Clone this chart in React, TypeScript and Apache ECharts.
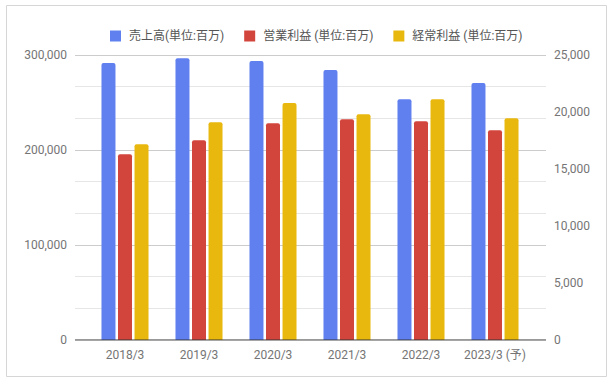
import React, { useEffect, useRef } from "react";
import * as echarts from "echarts";

const categories = ["2018/3", "2019/3", "2020/3", "2021/3", "2022/3", "2023/3 (予)"];
const salesValues = [291500, 296700, 293600, 284100, 253500, 270400];
const operatingValues = [16300, 17520, 19020, 19370, 19190, 18400];
const ordinaryValues = [17170, 19100, 20800, 19810, 21120, 19460];
const seriesNames = ["売上高(単位:百万)", "営業利益 (単位:百万)", "経常利益 (単位:百万)"];

const FONT = "Roboto, 'Noto Sans CJK JP', sans-serif";

export default function App() {
  const ref = useRef<HTMLDivElement>(null);
  useEffect(() => {
    if (!ref.current) return;
    const chart = echarts.init(ref.current, null, { renderer: "svg" });
    const numFmt = (v: number) => v.toLocaleString("en-US");
    chart.setOption({
      animation: false,
      textStyle: { fontFamily: FONT },
      graphic: [
        {
          type: "rect",
          shape: { x: 6.5, y: 5.5, width: 600, height: 371 },
          style: { fill: "none", stroke: "#d6d6d6", lineWidth: 1 },
          silent: true,
        },
      ],
      legend: {
        top: 25,
        left: 105,
        icon: "rect",
        itemWidth: 11,
        itemHeight: 11,
        itemGap: 20,
        textStyle: { fontFamily: FONT, fontSize: 12, color: "#555", padding: [0, 0, 0, 3] },
        data: seriesNames,
      },
      grid: [
        { left: 75, right: 67, top: 55, bottom: 43 },
        { left: 88, right: 81, top: 55, bottom: 43 },
      ],
      xAxis: [
        {
          gridIndex: 0,
          type: "value",
          min: 0,
          max: 1,
          axisLabel: { show: false },
          axisTick: { show: false },
          splitLine: { show: false },
          axisLine: { show: false },
        },
        {
          gridIndex: 1,
          type: "category",
          data: categories,
          axisLine: { show: false },
          axisTick: { show: false },
          axisLabel: { color: "#757575", fontSize: 12, fontFamily: FONT, margin: 9, interval: 0 },
        },
      ],
      yAxis: [
        {
          gridIndex: 0,
          type: "value",
          min: 0,
          max: 300000,
          interval: 100000,
          position: "left",
          axisLine: { show: false },
          axisTick: { show: false },
          axisLabel: { color: "#757575", fontSize: 12, fontFamily: FONT, formatter: numFmt, margin: 8 },
          splitLine: { show: true, lineStyle: { color: "#cccccc", width: 1 } },
          minorTick: { show: false, splitNumber: 3 },
          minorSplitLine: { show: true, lineStyle: { color: "#e6e6e6", width: 1 } },
        },
        {
          gridIndex: 0,
          type: "value",
          min: 0,
          max: 25000,
          interval: 5000,
          position: "right",
          axisLine: { show: false },
          axisTick: { show: false },
          axisLabel: { color: "#757575", fontSize: 12, fontFamily: FONT, formatter: numFmt, margin: 8 },
          splitLine: { show: false },
        },
        {
          gridIndex: 1,
          type: "value",
          min: 0,
          max: 300000,
          show: false,
        },
        {
          gridIndex: 1,
          type: "value",
          min: 0,
          max: 25000,
          show: false,
        },
      ],
      series: [
        {
          name: "axisline",
          type: "line",
          xAxisIndex: 0,
          yAxisIndex: 0,
          data: [[0, 0], [1, 0]],
          symbol: "none",
          lineStyle: { color: "#333333", width: 1 },
          silent: true,
          z: 5,
        },
        {
          name: seriesNames[0],
          type: "bar",
          xAxisIndex: 1,
          yAxisIndex: 2,
          data: salesValues,
          barWidth: 14,
          barGap: "18%",
          itemStyle: { color: "#6180f0", borderRadius: [2, 2, 0, 0] },
        },
        {
          name: seriesNames[1],
          type: "bar",
          xAxisIndex: 1,
          yAxisIndex: 3,
          data: operatingValues,
          barWidth: 14,
          barGap: "18%",
          itemStyle: { color: "#d2453c", borderRadius: [2, 2, 0, 0] },
        },
        {
          name: seriesNames[2],
          type: "bar",
          xAxisIndex: 1,
          yAxisIndex: 3,
          data: ordinaryValues,
          barWidth: 14,
          barGap: "18%",
          itemStyle: { color: "#e9b80f", borderRadius: [2, 2, 0, 0] },
        },
      ],
    });
    return () => chart.dispose();
  }, []);
  return (
    <div
      ref={ref}
      style={{ position: "fixed", left: 0, top: 0, width: 613, height: 383, background: "#fff" }}
    />
  );
}
